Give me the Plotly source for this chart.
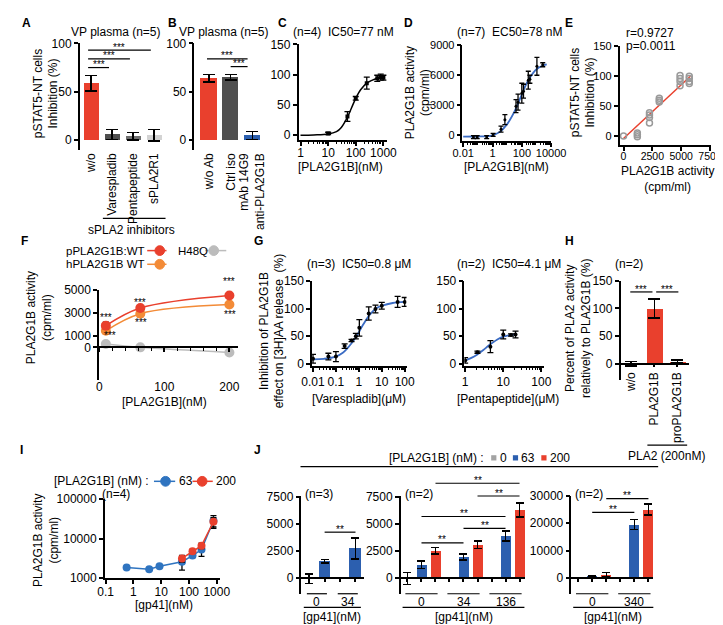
import math
import plotly.graph_objects as go

W, H = 723, 625
FONT = "Liberation Sans, Arial, sans-serif"

RED = "#e9402d"
DARK = "#4f4f4f"
MID = "#707070"
LIGHT = "#d3d3d3"
BLUE = "#2c5faf"
SKY = "#2f74c0"
CURVE = "#3b6cc4"
ORANGE = "#f38b37"
HGRAY = "#bcbcbc"
JGRAY = "#a3a3a3"

# ---------------- data ----------------
# A
a_labels = ["w/o", "Varespladib", "Pentapeptide", "sPLA2R1"]
a_values = [59, 6, 4, 5]
a_errors = [8, 5, 4, 6]
# B
b_labels = ["w/o Ab", "Ctrl iso", "mAb 14G9<br>anti-PLA2G1B"]
b_values = [64, 65, 5]
b_errors = [4, 3, 4]
# C
c_dose = [10, 50, 100, 250, 600, 800, 1000]
c_inhib = [3, 31, 61, 86, 94, 96, 95]
c_err = [2, 8, 3, 10, 5, 5, 4]
c_fit_dose = [1, 3, 10, 20, 30, 50, 70, 100, 150, 250, 400, 600, 1000]
c_fit_inhib = [0, 0.5, 2, 6, 13, 30, 45, 61, 75, 86, 91, 94, 95]
# D
d_dose = [0.05, 0.09, 0.4, 1.1, 3.8, 7, 40, 55, 100, 130, 275, 355, 1070, 2670]
d_act = [-200, -200, -200, 20, 600, 1550, 2900, 3300, 4200, 4400, 5500, 5600, 6900, 7050]
d_err = [150, 150, 150, 150, 300, 500, 650, 800, 1000, 700, 900, 400, 900, 200]
d_fit_dose = [0.01, 0.1, 0.5, 1, 3, 10, 30, 78, 150, 300, 1000, 3000, 5000]
d_fit_act = [-150, -140, -100, -20, 300, 1100, 2300, 3700, 4700, 5600, 6600, 7000, 7100]
# E
e_act = [0, 1200, 1200, 1200, 2250, 2250, 2250, 2250, 3100, 3100, 3100,
         4900, 4900, 4900, 4900, 5700, 5700, 5700, 5700]
e_inhib = [0, 5, 2, -1, 39, 35, 31, 22, 63, 60, 57, 101, 96, 91, 84, 100, 96, 91, 88]
e_fit_act = [0, 5800]
e_fit_inhib = [-4, 100]
# F
f_dose = [10, 63, 200]
f_p_wt = [1900, 3450, 4550]
f_p_wt_err = [300, 150, 100]
f_h_wt = [1450, 2950, 3750]
f_h_wt_err = [100, 150, 120]
f_h48q = [300, 0, -450]
f_h48q_err = [100, 150, 80]
# G
g1_dose = [0.01, 0.047, 0.1, 0.24, 0.48, 0.74, 1.05, 2.7, 5.3, 10, 49, 100]
g1_inhib = [9, 13, 13, 32, 42, 50, 65, 91, 99, 105, 112, 112]
g1_err = [8, 6, 9, 4, 2, 5, 15, 12, 7, 6, 10, 8]
g1_fit_dose = [0.01, 0.03, 0.1, 0.2, 0.3, 0.5, 0.8, 1.5, 3, 6, 10, 30, 100]
g1_fit_inhib = [8, 9, 13, 20, 27, 38, 50, 70, 89, 101, 105, 110, 112]
g2_dose = [1, 2.1, 4.6, 10, 16, 21]
g2_inhib = [6, 21, 31, 53, 52, 53]
g2_err = [5, 2, 11, 8, 2, 6]
g2_fit_dose = [1, 1.5, 2, 3, 4, 5, 7, 10, 15, 21]
g2_fit_inhib = [6, 11, 16, 25, 32, 37, 44, 49, 52, 53]
# H
h_labels = ["w/o", "PLA2G1B", "proPLA2G1B"]
h_values = [0, 100, 4]
h_errors = [4, 17, 3]
# I
i_gp41_63 = [0.57, 3.7, 8.7, 56, 134, 283, 762]
i_act_63 = [1840, 1670, 1980, 2590, 3710, 5240, 28000]
i_err_63 = [80, 80, 80, 1000, 400, 1700, 10000]
i_gp41_200 = [56, 134, 283, 762]
i_act_200 = [3130, 4770, 6580, 26500]
i_err_200 = [600, 500, 1000, 7000]
# J
j_pla_levels = ["0", "63", "200"]
j1_groups = ["0", "34"]
j1_vals = [-50, 1550, 0, 2750]
j1_err = [450, 150, 60, 980]
j1_cols = [JGRAY, BLUE, JGRAY, BLUE]
j2_groups = ["0", "34", "136"]
j2_vals = [-50, 1250, 2550, 0, 1950, 3100, 0, 3900, 6300]
j2_err = [550, 350, 300, 60, 300, 350, 60, 450, 650]
j2_cols = [JGRAY, BLUE, RED] * 3
j3_groups = ["0", "340"]
j3_vals = [0, 600, 1200, 0, 19500, 25000]
j3_err = [200, 300, 800, 0, 1800, 2000]
j3_cols = [JGRAY, BLUE, RED] * 2

# ---------------- helpers ----------------
fig = go.Figure()
shapes, annots = [], []


def X(px):
    return px / W


def Y(py):
    return 1 - py / H


class Panel:
    def __init__(self, i, box, xr, yr, xlog=False, ylog=False):
        self.i = i
        self.l, self.t, self.r, self.b = box
        self.xr, self.yr = xr, yr
        self.xlog, self.ylog = xlog, ylog
        self.xref = "x" if i == 1 else f"x{i}"
        self.yref = "y" if i == 1 else f"y{i}"

    def fx(self, v):
        t = math.log10(v) if self.xlog else v
        return self.l + (t - self.xr[0]) / (self.xr[1] - self.xr[0]) * (self.r - self.l)

    def fy(self, v):
        t = math.log10(v) if self.ylog else v
        return self.b - (t - self.yr[0]) / (self.yr[1] - self.yr[0]) * (self.b - self.t)


F10 = dict(size=10.5, color="black", family=FONT)
F11 = dict(size=11, color="black", family=FONT)
F12 = dict(size=12, color="black", family=FONT)
AXIS = dict(showline=True, linecolor="black", linewidth=1.5, ticks="outside", ticklen=4,
            tickwidth=1.5, tickcolor="black", showgrid=False, zeroline=False,
            tickfont=F11, fixedrange=True)


def axes(p, xkw=None, ykw=None):
    xa = dict(AXIS, domain=[X(p.l), X(p.r)], anchor=p.yref, range=list(p.xr),
              type="log" if p.xlog else "linear")
    ya = dict(AXIS, domain=[Y(p.b), Y(p.t)], anchor=p.xref, range=list(p.yr),
              type="log" if p.ylog else "linear")
    xa.update(xkw or {})
    ya.update(ykw or {})
    fig.update_layout({("xaxis" if p.i == 1 else f"xaxis{p.i}"): xa,
                       ("yaxis" if p.i == 1 else f"yaxis{p.i}"): ya})


def minor_log(lo, hi):
    return dict(tickvals=[m * 10 ** e for e in range(lo, hi) for m in range(2, 10)],
                ticks="outside", ticklen=2.5, tickwidth=1, tickcolor="black")


def txt(x, y, s, size=12, xa="center", ya="middle", angle=0, bold=False, color="black"):
    annots.append(dict(x=X(x), y=Y(y), xref="paper", yref="paper",
                       text=f"<b>{s}</b>" if bold else s, showarrow=False,
                       xanchor=xa, yanchor=ya, textangle=angle,
                       font=dict(size=size, color=color, family=FONT)))


def seg(x0, y0, x1, y1, w=1.2, color="black"):
    shapes.append(dict(type="line", xref="paper", yref="paper", x0=X(x0), y0=Y(y0),
                       x1=X(x1), y1=Y(y1), line=dict(color=color, width=w)))


def dot(cx, cy, r, color):
    shapes.append(dict(type="circle", xref="paper", yref="paper", x0=X(cx - r), x1=X(cx + r),
                       y0=Y(cy + r), y1=Y(cy - r), fillcolor=color, line=dict(color=color, width=1)))


def sq(cx, cy, r, color):
    shapes.append(dict(type="rect", xref="paper", yref="paper", x0=X(cx - r), x1=X(cx + r),
                       y0=Y(cy + r), y1=Y(cy - r), fillcolor=color, line=dict(width=0)))


def bracket(p, i0, i1, yv, label="***", size=10):
    x0, x1, y = p.fx(i0), p.fx(i1), p.fy(yv)
    seg(x0, y, x1, y)
    txt((x0 + x1) / 2, y - 3, label, size=size)


def eb(arr, w=3, th=1.3):
    return dict(type="data", array=arr, color="black", thickness=th, width=w)


def bar(p, y, err, colors, width, cap=5):
    fig.add_bar(x=list(range(len(y))), y=y, width=width,
                marker=dict(color=colors, line=dict(width=0)),
                error_y=eb(err, cap, 1.5), xaxis=p.xref, yaxis=p.yref, showlegend=False)


def sc(p, **kw):
    kw.setdefault("showlegend", False)
    fig.add_scatter(xaxis=p.xref, yaxis=p.yref, **kw)


# ---------------- panels ----------------
pA = Panel(1, (63, 29, 150, 138), (-0.55, 3.46), (-10, 100))
pB = Panel(2, (182, 29, 254, 138), (-0.667, 2.53), (-10, 100))
pC = Panel(3, (290, 30, 382, 128), (-0.07, 3.14), (-8, 150), xlog=True)
pD = Panel(4, (460, 31, 552, 129), (-2.05, 4.0), (-600, 9000), xlog=True)
pE = Panel(5, (623, 32, 718, 133), (-340, 7600), (-15, 150))
pF = Panel(6, (83, 281, 227, 373), (-0.5, 213), (-2830, 5050))
pG1 = Panel(7, (304, 272, 402, 359), (-2.04, 2.08), (-4, 150), xlog=True)
pG2 = Panel(8, (462, 272, 545, 359), (-0.02, 2.08), (-4, 150), xlog=True)
pH = Panel(9, (624, 272, 695, 373), (-0.46, 2.5), (-29, 150))
pI = Panel(10, (89, 495, 208, 576), (-1.03, 3.1), (3, 5), xlog=True, ylog=True)
pJ1 = Panel(11, (293, 492, 358, 592), (-0.5, 3.56), (-1450, 7600))
pJ2 = Panel(12, (396, 492, 525, 592), (-0.48, 8.4), (-1450, 7600))
pJ3 = Panel(13, (573, 492, 658, 592), (-0.48, 5.35), (-5800, 30000))

# panel letters
for s, x, y in [("A", 8, 8), ("B", 159, 8), ("C", 273, 8), ("D", 404, 8), ("E", 571, 8),
                ("F", 6, 231), ("G", 248, 231), ("H", 571, 231), ("I", 3, 445), ("J", 247, 445)]:
    txt(x, y, s, size=12, bold=True)

# ---- A ----
bar(pA, a_values, a_errors, [RED, DARK, MID, LIGHT], 0.74, 6)
axes(pA, dict(showline=False, ticks="", tickvals=list(range(4)), ticktext=a_labels,
              tickangle=-90, tickfont=F12),
     dict(tickvals=[0, 50, 100], tickfont=F12))
bracket(pA, -0.15, 2.85, 93)
bracket(pA, -0.15, 1.85, 84)
bracket(pA, -0.15, 0.85, 75)
txt(101, 17, "VP plasma (n=5)")
txt(28, 80, "pSTAT5-NT cells<br>Inhibition (%)", angle=-90)
seg(87, 208, 152, 208)
txt(117, 220, "sPLA2 inhibitors")

# ---- B ----
bar(pB, b_values, b_errors, [RED, DARK, BLUE], 0.75, 6)
axes(pB, dict(showline=False, ticks="", tickvals=list(range(3)), ticktext=b_labels,
              tickangle=-90, tickfont=F12),
     dict(tickvals=[0, 50, 100], tickfont=F12))
bracket(pB, -0.09, 1.78, 84)
bracket(pB, 1.0, 1.78, 76)
txt(213, 17, "VP plasma (n=5)")

# ---- C ----
sc(pC, x=c_fit_dose, y=c_fit_inhib, mode="lines", line=dict(color="black", width=1.5, shape="spline"))
sc(pC, x=c_dose, y=c_inhib, mode="markers", marker=dict(symbol="square", size=4, color="black"),
   error_y=eb(c_err, 3))
axes(pC, dict(tickvals=[1, 10, 100, 1000], ticktext=["1", "10", "100", "1000"], minor=minor_log(0, 3),
              ticklabelstandoff=-3, tickfont=F12),
     dict(tickvals=[0, 50, 100, 150], tickfont=F12))
txt(337, 17, "(n=4)  IC50=77 nM")
txt(334, 155, "[PLA2G1B](nM)")

# ---- D ----
sc(pD, x=d_fit_dose, y=d_fit_act, mode="lines", line=dict(color=CURVE, width=1.8, shape="spline"))
sc(pD, x=d_dose, y=d_act, mode="markers", marker=dict(size=3, color="black"), error_y=eb(d_err, 2.5))
axes(pD, dict(tickvals=[0.01, 1, 100, 10000], ticktext=["0.01", "1", "100", "10000"],
              minor=minor_log(-2, 4), ticklabelstandoff=-3),
     dict(tickvals=[0, 3000, 6000, 9000], tickformat="d"))
txt(509, 17, "(n=7)  EC50=78 nM")
txt(506, 155, "[PLA2G1B](nM)")
txt(414, 80, "PLA2G1B activity<br>(cpm/ml)", angle=-90)

# ---- E ----
sc(pE, x=e_fit_act, y=e_fit_inhib, mode="lines", line=dict(color=RED, width=1.5))
sc(pE, x=e_act, y=e_inhib, mode="markers",
   marker=dict(symbol="circle-open", size=6, color="#9a9a9a", line=dict(width=1.5)))
axes(pE, dict(tickvals=[0, 2500, 5000, 7500], tickformat="d", ticklabelstandoff=-3, tickfont=F10),
     dict(tickvals=[0, 50, 100, 150]))
txt(628, 18, "r=0.9727", xa="left")
txt(628, 32, "p=0.0011", xa="left")
txt(585, 79, "pSTAT5-NT cells<br>Inhibition (%)", angle=-90)
txt(673, 168, "PLA2G1B activity<br>(cpm/ml)")

# ---- F ----
for ys, es, col in [(f_h48q, f_h48q_err, HGRAY), (f_h_wt, f_h_wt_err, ORANGE), (f_p_wt, f_p_wt_err, RED)]:
    sc(pF, x=f_dose, y=ys, mode="lines+markers", line=dict(color=col, width=1.5, shape="spline"),
       marker=dict(size=10, color=col), error_y=eb(es, 3))
axes(pF, dict(anchor="free", position=Y(pF.fy(0)), tickvals=[0, 100, 200], ticklen=4,
              minor=dict(dtick=20, tick0=0, ticks="outside", ticklen=3, tickwidth=1.2, tickcolor="black"),
              ticklabelstandoff=25, tickfont=F12),
     dict(tickvals=[0, 1000, 3000, 5000], tickformat="d", tickfont=F12))
for xv, yv, dy in zip(f_dose, f_p_wt, [-10, -8, -16]):
    txt(pF.fx(xv), pF.fy(yv) + dy + 2, "***", size=10)
for xv, yv, dy, dx in zip(f_dose, f_h_wt, [3, 7, 8], [4, 1, 1]):
    txt(pF.fx(xv) + dx, pF.fy(yv) + dy + 2, "***", size=10)
txt(21, 310, "PLA2G1B activity<br>(cpm/ml)", angle=-90)
txt(151, 396, "[PLA2G1B](nM)")
# legend
txt(133, 241, "pPLA2G1B:WT", size=11.5, xa="right")
seg(133, 241, 153, 241, 1.5, RED)
dot(146, 241, 5, RED)
txt(163, 241, "H48Q", size=11.5, xa="left")
seg(193, 241, 215, 241, 1.5, HGRAY)
dot(202, 241, 5, HGRAY)
txt(133, 255, "hPLA2G1B WT", size=11.5, xa="right")
seg(133, 255, 153, 255, 1.5, ORANGE)
dot(146, 255, 5, ORANGE)

# ---- G ----
sc(pG1, x=g1_fit_dose, y=g1_fit_inhib, mode="lines", line=dict(color=CURVE, width=1.8, shape="spline"))
sc(pG1, x=g1_dose, y=g1_inhib, mode="markers", marker=dict(size=4, color="black"), error_y=eb(g1_err, 3))
axes(pG1, dict(tickvals=[0.01, 0.1, 1, 10, 100], ticktext=["0.01", "0.1", "1", "10", "100"],
               minor=minor_log(-2, 2), tickfont=F12),
     dict(tickvals=[0, 50, 100, 150], tickfont=F12))
sc(pG2, x=g2_fit_dose, y=g2_fit_inhib, mode="lines", line=dict(color=CURVE, width=1.8, shape="spline"))
sc(pG2, x=g2_dose, y=g2_inhib, mode="markers", marker=dict(size=4, color="black"), error_y=eb(g2_err, 3))
axes(pG2, dict(tickvals=[1, 10, 100], ticktext=["1", "10", "100"], minor=minor_log(0, 2), tickfont=F12),
     dict(tickvals=[0, 50, 100, 150], tickfont=F12))
txt(262, 323, "Inhibition of PLA2G1B<br>effect on [3H]AA release  (%)", angle=-90)
txt(353, 255, "(n=3)  IC50=0.8 μM")
txt(508, 255, "(n=2)  IC50=4.1 μM")
txt(353, 393, "[Varespladib](μM)")
txt(507, 393, "[Pentapeptide](μM)")

# ---- H ----
bar(pH, h_values, h_errors, [RED, RED, RED], 0.7, 6)
axes(pH, dict(anchor="free", position=Y(pH.fy(0)), tickvals=list(range(3)), ticktext=h_labels,
              tickangle=-90, ticklen=3, tickfont=F12),
     dict(tickvals=[0, 50, 100, 150], tickfont=F12))
bracket(pH, -0.04, 0.92, 130)
bracket(pH, 1.08, 2.04, 130)
txt(633, 255, "(n=2)")
txt(580, 321, "Percent of PLA2 activity<br>relatively to PLA2G1B (%)", angle=-90)
seg(pH.fx(0.7), 440, pH.fx(2.42), 440)
txt(672, 451, "PLA2 (200nM)")

# ---- I ----
sc(pI, x=i_gp41_63, y=i_act_63, mode="lines+markers", line=dict(color=SKY, width=1.5),
   marker=dict(size=8, color=SKY), error_y=eb(i_err_63, 3))
sc(pI, x=i_gp41_200, y=i_act_200, mode="lines+markers", line=dict(color=RED, width=1.5),
   marker=dict(size=8, color=RED), error_y=eb(i_err_200, 3))
axes(pI, dict(tickvals=[0.1, 1, 10, 100, 1000], ticktext=["0.1", "1", "10", "100", "1000"], tickfont=F12,
              ticklabelstandoff=-2),
     dict(tickvals=[1000, 10000, 100000], ticktext=["1000", "10000", "100000"], tickfont=F12))
txt(86, 477, "[PLA2G1B] (nM) :")
seg(140, 477, 162, 477, 1.5, SKY)
dot(152, 477, 5, SKY)
txt(164, 477, "63", xa="left")
seg(180, 477, 201, 477, 1.5, RED)
dot(190, 477, 5, RED)
txt(202, 477, "200", xa="left")
txt(101, 490, "(n=4)")
txt(28, 537, "PLA2G1B activity<br>(cpm/ml)", angle=-90)
txt(150, 604, "[gp41](nM)")

# ---- J ----
for p, vals, errs, cols, groups, nper, nlab, yticks in [
        (pJ1, j1_vals, j1_err, j1_cols, j1_groups, 2, "(n=3)", [0, 2500, 5000, 7500]),
        (pJ2, j2_vals, j2_err, j2_cols, j2_groups, 3, "(n=2)", [0, 2500, 5000, 7500]),
        (pJ3, j3_vals, j3_err, j3_cols, j3_groups, 3, "(n=2)", [0, 10000, 20000, 30000])]:
    bar(p, vals, errs, cols, 0.72, 4)
    axes(p, dict(anchor="free", position=Y(p.fy(0)), tickvals=list(range(len(vals))),
                 showticklabels=False, ticklen=3),
         dict(tickvals=yticks, tickformat="d", tickfont=F12))
    txt(p.l + 2, 490, nlab, xa="left")
    for g, lab in enumerate(groups):
        a, b = g * nper - 0.15, g * nper + nper - 1 + 0.15
        seg(p.fx(a), 592, p.fx(b), 592)
        txt((p.fx(a) + p.fx(b)) / 2, 600, lab)
    seg(p.fx(-0.35), 606, p.fx(len(vals) - 1 + 0.35), 606)
    txt((p.fx(-0.35) + p.fx(len(vals) - 1 + 0.35)) / 2, 616, "[gp41](nM)")

bracket(pJ1, 1, 3, 4250, "**")
bracket(pJ2, 2, 8, 8780, "**")
bracket(pJ2, 5, 8, 7600, "**")
bracket(pJ2, 1, 7, 5700, "**")
bracket(pJ2, 4, 7, 4600, "**")
bracket(pJ2, 1, 4, 3260, "**")
bracket(pJ3, 2, 5, 29000, "**")
bracket(pJ3, 1, 4, 24000, "**")

# J legend
seg(292, 462, 663, 462)
txt(433, 453, "[PLA2G1B] (nM) :")
sq(492.5, 453, 2.7, JGRAY)
txt(497, 453, "0", xa="left")
sq(515, 453, 2.7, BLUE)
txt(519, 453, "63", xa="left")
sq(544.5, 453, 2.7, RED)
txt(549, 453, "200", xa="left")

fig.update_layout(width=W, height=H, margin=dict(l=0, r=0, t=0, b=0),
                  paper_bgcolor="white", plot_bgcolor="rgba(0,0,0,0)",
                  showlegend=False, bargap=0, shapes=shapes, annotations=annots,
                  font=dict(family=FONT, color="black"))
fig.write_html("out.html", config={"displayModeBar": False})
